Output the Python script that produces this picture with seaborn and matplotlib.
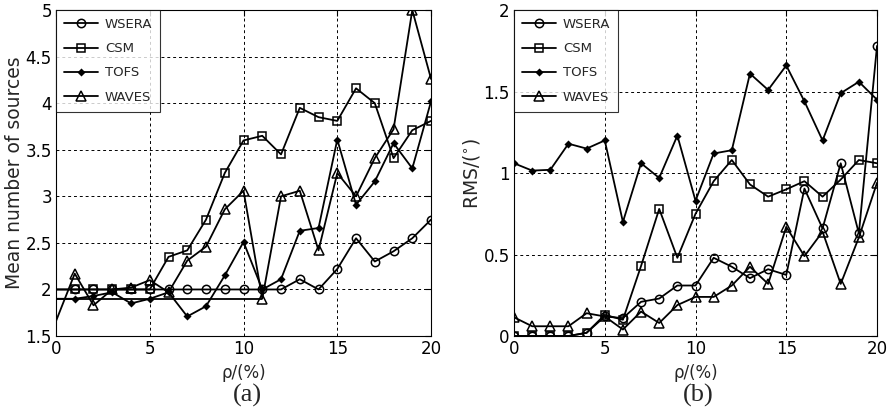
import numpy as np
import pandas as pd
import seaborn as sns
import matplotlib
matplotlib.use("Agg")
import matplotlib.pyplot as plt

# x axis: rho in percent
rho = list(range(0, 21))

# (a) mean number of sources
wsera_a = [2.0, 2.0, 2.0, 2.0, 2.0, 2.0, 2.0, 2.0, 2.0, 2.0, 2.0,
           2.0, 2.0, 2.11, 2.0, 2.22, 2.55, 2.3, 2.41, 2.55, 2.75]
csm_a = [2.0, 2.0, 2.0, 2.0, 2.0, 2.0, 2.35, 2.42, 2.75, 3.25, 3.6,
         3.65, 3.45, 3.95, 3.85, 3.81, 4.16, 4.0, 3.41, 3.71, 3.81]
tofs_a = [1.9, 1.9, 1.93, 1.97, 1.85, 1.9, 1.97, 1.71, 1.82, 2.15, 2.51,
          2.0, 2.11, 2.63, 2.66, 3.61, 2.91, 3.16, 3.57, 3.3, 4.02]
waves_a = [1.66, 2.17, 1.83, 2.0, 2.02, 2.1, 1.97, 2.31, 2.46, 2.86, 3.06,
           1.9, 3.0, 3.06, 2.42, 3.25, 3.0, 3.41, 3.72, 5.0, 4.26]

# (b) RMS in degrees
wsera_b = [0.0, 0.0, 0.0, 0.0, 0.02, 0.12, 0.11, 0.21, 0.23, 0.31, 0.31,
           0.48, 0.425, 0.355, 0.41, 0.375, 0.905, 0.66, 1.06, 0.63, 1.78]
csm_b = [0.0, 0.0, 0.0, 0.0, 0.02, 0.13, 0.1, 0.43, 0.78, 0.48, 0.75,
         0.95, 1.08, 0.93, 0.855, 0.9, 0.95, 0.855, 0.96, 1.08, 1.06]
tofs_b = [1.06, 1.015, 1.02, 1.18, 1.15, 1.2, 0.7, 1.06, 0.97, 1.23, 0.83,
          1.12, 1.14, 1.61, 1.51, 1.66, 1.44, 1.2, 1.49, 1.56, 1.45]
waves_b = [0.115, 0.06, 0.06, 0.06, 0.14, 0.12, 0.04, 0.15, 0.08, 0.19, 0.24,
           0.24, 0.31, 0.425, 0.32, 0.67, 0.49, 0.64, 0.32, 0.605, 0.94]

names = ["WSERA", "CSM", "TOFS", "WAVES"]
styles = {
    "WSERA": dict(marker="o", markersize=6, markerfacecolor="none"),
    "CSM": dict(marker="s", markersize=6, markerfacecolor="none"),
    "TOFS": dict(marker="D", markersize=3, markerfacecolor="k"),
    "WAVES": dict(marker="^", markersize=7, markerfacecolor="none"),
}

sns.set_style("white")
plt.rcParams["font.family"] = ["DejaVu Sans"]

fig = plt.figure(figsize=(8.93, 4.19), dpi=100)
ax1 = fig.add_axes([0.0627, 0.198, 0.42, 0.778])
ax2 = fig.add_axes([0.5756, 0.198, 0.4065, 0.778])


def draw(ax, series, skip_first):
    for name, vals in zip(names, series):
        df = pd.DataFrame({"rho": rho, "v": vals})
        kw = dict(styles[name])
        if skip_first:
            kw["markevery"] = slice(1, None)
        sns.lineplot(data=df, x="rho", y="v", ax=ax, color="k", lw=1.3,
                     markeredgecolor="k", markeredgewidth=1.1, label=name,
                     clip_on=True, **kw)
    ax.set_xlim(0, 20)
    ax.set_xticks([0, 5, 10, 15, 20])
    ax.grid(True, color="k", linestyle=(0, (3, 3)), linewidth=0.7)
    ax.tick_params(direction="in", length=4, labelsize=12, top=True, right=True,
                   colors="k", pad=3)
    for s in ax.spines.values():
        s.set_color("k")
        s.set_linewidth(0.8)
    ax.set_xlabel("ρ/(%)", fontsize=12, labelpad=4)
    leg = ax.legend(loc="upper left", fontsize=9.5, frameon=True, fancybox=False,
                    edgecolor="k", borderaxespad=0, handlelength=2.6,
                    labelspacing=0.85, borderpad=0.6, handletextpad=0.5)
    leg.get_frame().set_linewidth(0.8)


draw(ax1, [wsera_a, csm_a, tofs_a, waves_a], True)
ax1.hlines(1.9, 0, 11, color="k", lw=1.3)
ax1.set_ylim(1.5, 5)
ax1.set_yticks([1.5, 2, 2.5, 3, 3.5, 4, 4.5, 5])
ax1.set_yticklabels(["1.5", "2", "2.5", "3", "3.5", "4", "4.5", "5"])
ax1.set_ylabel("Mean number of sources", fontsize=13.5, labelpad=1)

draw(ax2, [wsera_b, csm_b, tofs_b, waves_b], False)
ax2.set_ylim(0, 2)
ax2.set_yticks([0, 0.5, 1, 1.5, 2])
ax2.set_yticklabels(["0", "0.5", "1", "1.5", "2"])
ax2.set_ylabel("RMS/($^{\\circ}$)", fontsize=13.5, labelpad=1)

fig.text(0.2766, 0.057, "(a)", fontsize=19, family="Liberation Serif",
         ha="center", va="center")
fig.text(0.7816, 0.057, "(b)", fontsize=19, family="Liberation Serif",
         ha="center", va="center")

fig.savefig("out.png", dpi=100)
